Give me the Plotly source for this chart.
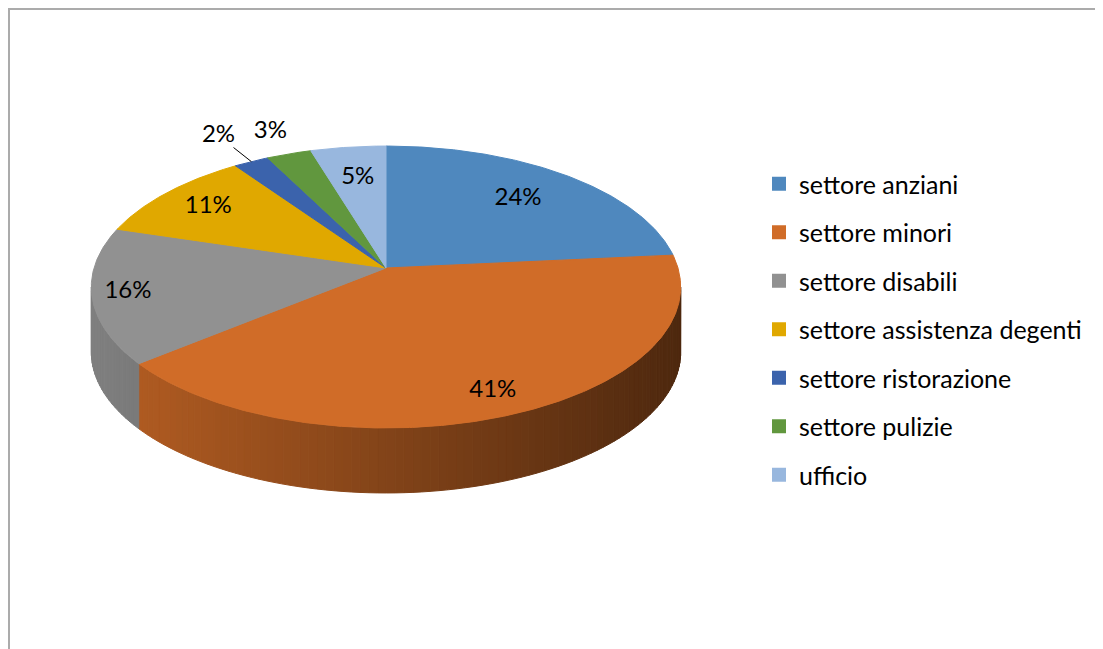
import numpy as np
import plotly.graph_objects as go

# ---------------- data ----------------
categories = ["settore anziani", "settore minori", "settore disabili",
              "settore assistenza degenti", "settore ristorazione",
              "settore pulizie", "ufficio"]
values = [23.5, 40.6, 15.6, 10.6, 2.2, 2.8, 4.7]
pct_labels = ["24%", "41%", "16%", "11%", "2%", "3%", "5%"]

# ---------------- style ----------------
colors = ["#4F88BE", "#D06C28", "#919191", "#E0A800", "#3B63AC", "#61973E", "#98B7DE"]
OFF = 8                    # page body margin
W, H = 1103 - OFF, 649 - OFF
CX, CY = 386, 268          # apex of the pie (screen px)
RX, SY, K = 292, 138.4, 0.1348   # perspective ellipse parameters
DEPTH = 65                 # thickness of the 3D pie (px)
LABEL_R = [0.72, 0.86, 0.88, 0.80, 1.28, 1.22, 0.72]
FONT = "Lato, 'Open Sans', sans-serif"


def proj(theta, r=1.0):
    u = r * np.sin(theta)
    v = r * np.cos(theta)
    d = 1 + K * v
    return CX + RX * u / d, CY - SY * v / d


def shade(hex_color, f):
    h = hex_color.lstrip("#")
    r, g, b = (int(h[i:i + 2], 16) for i in (0, 2, 4))
    return "rgb({},{},{})".format(int(r * f), int(g * f), int(b * f))


total = float(sum(values))
fracs = np.array(values) / total
ends = np.cumsum(fracs) * 2 * np.pi
starts = ends - fracs * 2 * np.pi

fig = go.Figure()

# ---- side walls (visible front part), shaded strips ----
lo = np.arccos(-K)
hi = 2 * np.pi - lo
step = np.radians(1.5)
xmin = CX - RX
for i in range(len(values)):
    a = max(starts[i], lo)
    b = min(ends[i], hi)
    if a >= b:
        continue
    n = int(np.ceil((b - a) / step))
    edges = np.linspace(a, b, n + 1)
    for j in range(n):
        th = np.linspace(edges[j], edges[j + 1], 4)
        xt, yt = proj(th)
        xs = np.concatenate([xt, xt[::-1], xt[:1]])
        ys = np.concatenate([yt, (yt + DEPTH)[::-1], yt[:1]])
        xm = float(np.mean(xt))
        f = 0.88 - 0.50 * (xm - xmin) / (2 * RX)
        c = shade(colors[i], f)
        fig.add_trace(go.Scatter(x=xs, y=ys, mode="lines", fill="toself",
                                 fillcolor=c, line=dict(color=c, width=1),
                                 hoverinfo="skip", showlegend=False))

# ---- top faces ----
for i in range(len(values)):
    n = max(8, int(np.degrees(ends[i] - starts[i]) * 2))
    th = np.linspace(starts[i], ends[i], n)
    xt, yt = proj(th)
    xs = np.concatenate([[CX], xt, [CX]])
    ys = np.concatenate([[CY], yt, [CY]])
    fig.add_trace(go.Scatter(x=xs, y=ys, mode="lines", fill="toself",
                             fillcolor=colors[i], line=dict(color=colors[i], width=1),
                             hoverinfo="skip", showlegend=False))

# ---- data labels ----
mids = (starts + ends) / 2
lx, ly = [], []
for i in range(len(values)):
    x, y = proj(mids[i], LABEL_R[i])
    lx.append(x)
    ly.append(y)
    if values[i] < 2.5:
        x0, y0 = proj(mids[i], 1.0)
        x1, y1 = proj(mids[i], 1.15)
        fig.add_trace(go.Scatter(x=[x0, x1], y=[y0, y1], mode="lines",
                                 line=dict(color="black", width=1),
                                 hoverinfo="skip", showlegend=False))
fig.add_trace(go.Scatter(x=lx, y=ly, mode="text", text=pct_labels,
                         textfont=dict(family=FONT, size=24, color="black"),
                         hoverinfo="skip", showlegend=False))

# ---- legend entries ----
for i, name in enumerate(categories):
    fig.add_trace(go.Scatter(x=[None], y=[None], mode="markers", name=name,
                             legendgroup=name,
                             marker=dict(symbol="square", size=14, color=colors[i])))

fig.update_layout(
    width=W, height=H, autosize=False,
    margin=dict(l=0, r=0, t=0, b=0),
    paper_bgcolor="white", plot_bgcolor="white",
    xaxis=dict(range=[OFF, OFF + W], visible=False, fixedrange=True),
    yaxis=dict(range=[OFF + H, OFF], visible=False, fixedrange=True),
    legend=dict(x=(759 - OFF) / W, y=1 - 153 / H, xanchor="left", yanchor="top",
                font=dict(family=FONT, size=25, color="black"),
                tracegroupgap=13, bgcolor="rgba(0,0,0,0)"),
    shapes=[
        dict(type="line", xref="paper", yref="paper", x0=0, x1=1, y0=1 - 1 / H, y1=1 - 1 / H,
             line=dict(color="#ABABAB", width=2)),
        dict(type="line", xref="paper", yref="paper", x0=1 / W, x1=1 / W, y0=0, y1=1,
             line=dict(color="#ABABAB", width=2)),
    ],
)

fig.write_html("out.html")
